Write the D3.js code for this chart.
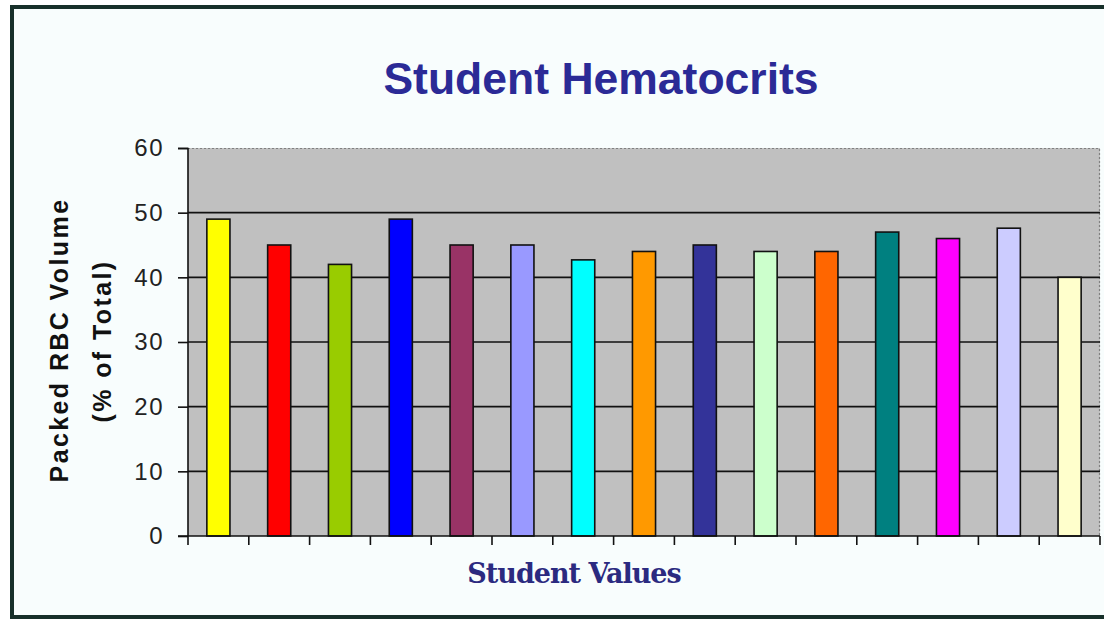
<!DOCTYPE html>
<html>
<head>
<meta charset="utf-8">
<script src="https://cdn.jsdelivr.net/npm/d3@7"></script>
<style>
  body { margin: 0; background: #ffffff; }
  svg { display: block; }
</style>
</head>
<body>
<div id="chart"></div>
<script>
// data
var students = ["1","2","3","4","5","6","7","8","9","10","11","12","13","14","15"];
var hematocrit = [49, 45, 42, 49, 45, 45, 42.7, 44, 45, 44, 44, 47, 46, 47.6, 40];
var barColors = ["#ffff00","#ff0000","#99cc00","#0000ff","#993366","#9999ff","#00ffff","#ff9900",
                 "#333399","#ccffcc","#ff6600","#008080","#ff00ff","#ccccff","#ffffcc"];
var yTicks = [0, 10, 20, 30, 40, 50, 60];

var svgWidth = 1104;
var svgHeight = 620;

var margin = { top: 148, bottom: 84, left: 188, right: 4 };
var chartWidth = svgWidth - margin.left - margin.right;
var chartHeight = svgHeight - margin.top - margin.bottom;

var svg = d3.select("#chart")
  .append("svg")
  .attr("width", svgWidth)
  .attr("height", svgHeight);

// outer frame
svg.append("rect")
  .attr("x", 12).attr("y", 7)
  .attr("width", 1110).attr("height", 610)
  .attr("fill", "#f8fdfd")
  .attr("stroke", "#17302a")
  .attr("stroke-width", 4);

var chartGroup = svg.append("g").attr("transform", `translate(${margin.left}, ${margin.top})`);

var xScale = d3.scaleBand()
  .domain(students)
  .range([0, chartWidth])
  .paddingInner(0.62)
  .paddingOuter(0.31);

var yScale = d3.scaleLinear()
  .domain([0, 60])
  .range([chartHeight, 0]);

// plot area
chartGroup.append("rect")
  .attr("width", chartWidth)
  .attr("height", chartHeight)
  .attr("fill", "#c0c0c0");

// dotted top and right border
chartGroup.append("path")
  .attr("d", `M0,0.5H${chartWidth - 0.5}V${chartHeight}`)
  .attr("fill", "none")
  .attr("stroke", "#808080")
  .attr("stroke-width", 1.2)
  .attr("stroke-dasharray", "2,2");

// gridlines
chartGroup.selectAll(".grid").data(yTicks.filter(d => d > 0 && d < 60)).enter()
  .append("line")
  .attr("x1", 0).attr("x2", chartWidth)
  .attr("y1", d => yScale(d)).attr("y2", d => yScale(d))
  .attr("stroke", "#111")
  .attr("stroke-width", 1.6);

// bars
chartGroup.selectAll(".bar").data(hematocrit).enter()
  .append("rect")
  .attr("x", (d, i) => xScale(students[i]))
  .attr("y", d => yScale(d))
  .attr("width", xScale.bandwidth())
  .attr("height", d => chartHeight - yScale(d))
  .attr("fill", (d, i) => barColors[i])
  .attr("stroke", "#111")
  .attr("stroke-width", 1.6);

// y axis
var leftAxis = d3.axisLeft(yScale).tickValues(yTicks).tickSize(10).tickPadding(14);
var yAxisG = chartGroup.append("g").call(leftAxis);
yAxisG.select(".domain").attr("stroke", "#111").attr("stroke-width", 1.6).attr("d", `M-10,0.5H0V${chartHeight}`);
yAxisG.selectAll(".tick line").attr("stroke", "#111").attr("stroke-width", 1.6);
yAxisG.selectAll(".tick text")
  .attr("fill", "#222")
  .style("font-family", "Liberation Sans, Arial, sans-serif")
  .style("font-size", "24px")
  .style("letter-spacing", "1.5px");

// x axis, ticks at band edges
var step = xScale.step();
var edges = d3.range(students.length + 1).map(i => i * step);
var xAxisG = chartGroup.append("g").attr("transform", `translate(0, ${chartHeight})`);
xAxisG.append("line")
  .attr("x1", -10).attr("x2", chartWidth)
  .attr("stroke", "#111").attr("stroke-width", 1.6);
xAxisG.selectAll(".xtick").data(edges).enter()
  .append("line")
  .attr("x1", d => d).attr("x2", d => d)
  .attr("y1", 0).attr("y2", 9)
  .attr("stroke", "#111").attr("stroke-width", 1.6);

// title
svg.append("text")
  .attr("x", 601).attr("y", 94)
  .attr("text-anchor", "middle")
  .attr("fill", "#2b2a96")
  .style("font-family", "Liberation Sans, Arial, sans-serif")
  .style("font-weight", "bold")
  .style("font-size", "44.5px")
  .text("Student Hematocrits");

// axis titles
svg.append("text")
  .attr("transform", "translate(68, 340) rotate(-90)")
  .attr("text-anchor", "middle")
  .attr("fill", "#111")
  .style("font-family", "Liberation Sans, Arial, sans-serif")
  .style("font-weight", "bold")
  .style("font-size", "25px")
  .style("letter-spacing", "2.4px")
  .text("Packed RBC Volume");

svg.append("text")
  .attr("transform", "translate(111, 341) rotate(-90)")
  .attr("text-anchor", "middle")
  .attr("fill", "#111")
  .style("font-family", "Liberation Sans, Arial, sans-serif")
  .style("font-weight", "bold")
  .style("font-size", "25px")
  .style("letter-spacing", "2.4px")
  .text("(% of Total)");

svg.append("text")
  .attr("x", 574).attr("y", 583)
  .attr("text-anchor", "middle")
  .attr("fill", "#2b2a80")
  .style("font-family", "DejaVu Serif, serif")
  .style("font-weight", "bold")
  .style("font-size", "27px")
  .style("letter-spacing", "-1px")
  .text("Student Values");
</script>
</body>
</html>
